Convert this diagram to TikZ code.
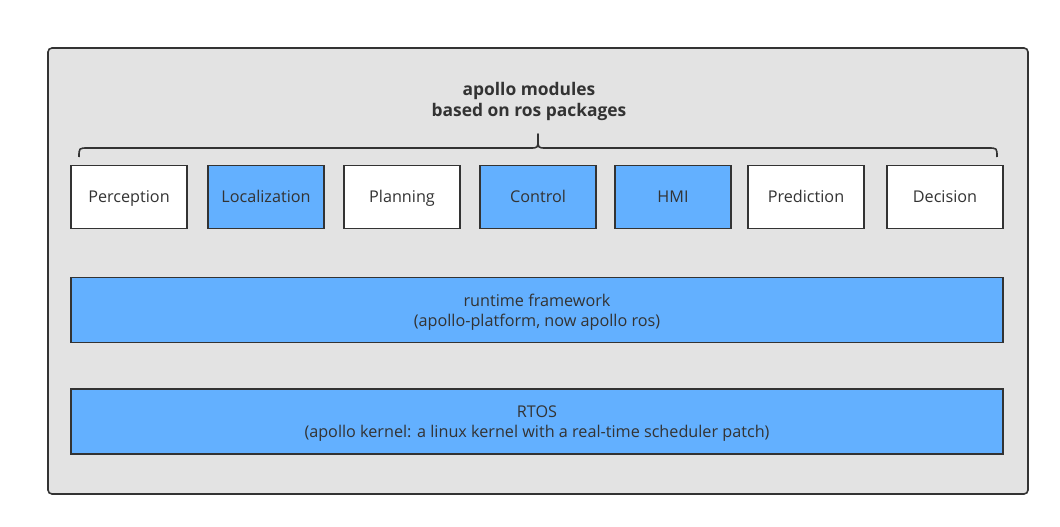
\documentclass[tikz,border=0pt]{standalone}
\usepackage{fontspec}
\setmainfont{Open Sans}
\definecolor{bggray}{HTML}{E3E3E3}
\definecolor{modblue}{HTML}{63B0FF}
\definecolor{ink}{HTML}{333333}
\begin{document}
\begin{tikzpicture}[x=1pt,y=-1pt,
  mod/.style={draw=ink,line width=1.6pt,minimum width=116pt,minimum height=63pt,inner sep=0pt,text height=13pt,text depth=2pt,font=\fontsize{16.2}{20}\selectfont,text=ink},
  wide/.style={draw=ink,line width=1.6pt,fill=modblue,minimum width=932pt,minimum height=65pt,inner sep=0pt,align=center,font=\fontsize{16.2}{20}\selectfont,text=ink}]
\useasboundingbox (0,0) rectangle (1060,527);
\draw[ink,fill=bggray,line width=1.6pt,rounded corners=4pt] (48,48) rectangle (1028,494);
\node[text=ink,font=\bfseries\fontsize{17.4}{21}\selectfont,align=center] (title) at (529,101) {apollo modules\\based on ros packages};
\draw[ink,line width=1.6pt,line join=round] (79,157) .. controls (79,148) .. (88,148) -- (530,148) .. controls (538,148) .. (538,139) -- (538,134) -- (538,139) .. controls (538,148) .. (546,148) -- (988,148) .. controls (997,148) .. (997,157);
\node[mod,fill=white] (perc) at (129,197) {Perception};
\node[mod,fill=modblue] (loc) at (266,197) {Localization};
\node[mod,fill=white] (plan) at (402,197) {Planning};
\node[mod,fill=modblue] (ctrl) at (538,197) {Control};
\node[mod,fill=modblue] (hmi) at (673,197) {HMI};
\node[mod,fill=white] (pred) at (806,197) {Prediction};
\node[mod,fill=white] (dec) at (945,197) {Decision};
\node[wide] (rt) at (537,310) {\raisebox{-2pt}[\height][\depth]{\parbox{900pt}{\centering runtime framework\\(apollo-platform, now apollo ros)}}};
\node[wide] (rtos) at (537,421.5) {\raisebox{-2pt}[\height][\depth]{\parbox{900pt}{\centering RTOS\\(apollo kernel: a linux kernel with a real-time scheduler patch)}}};
\end{tikzpicture}
\end{document}
